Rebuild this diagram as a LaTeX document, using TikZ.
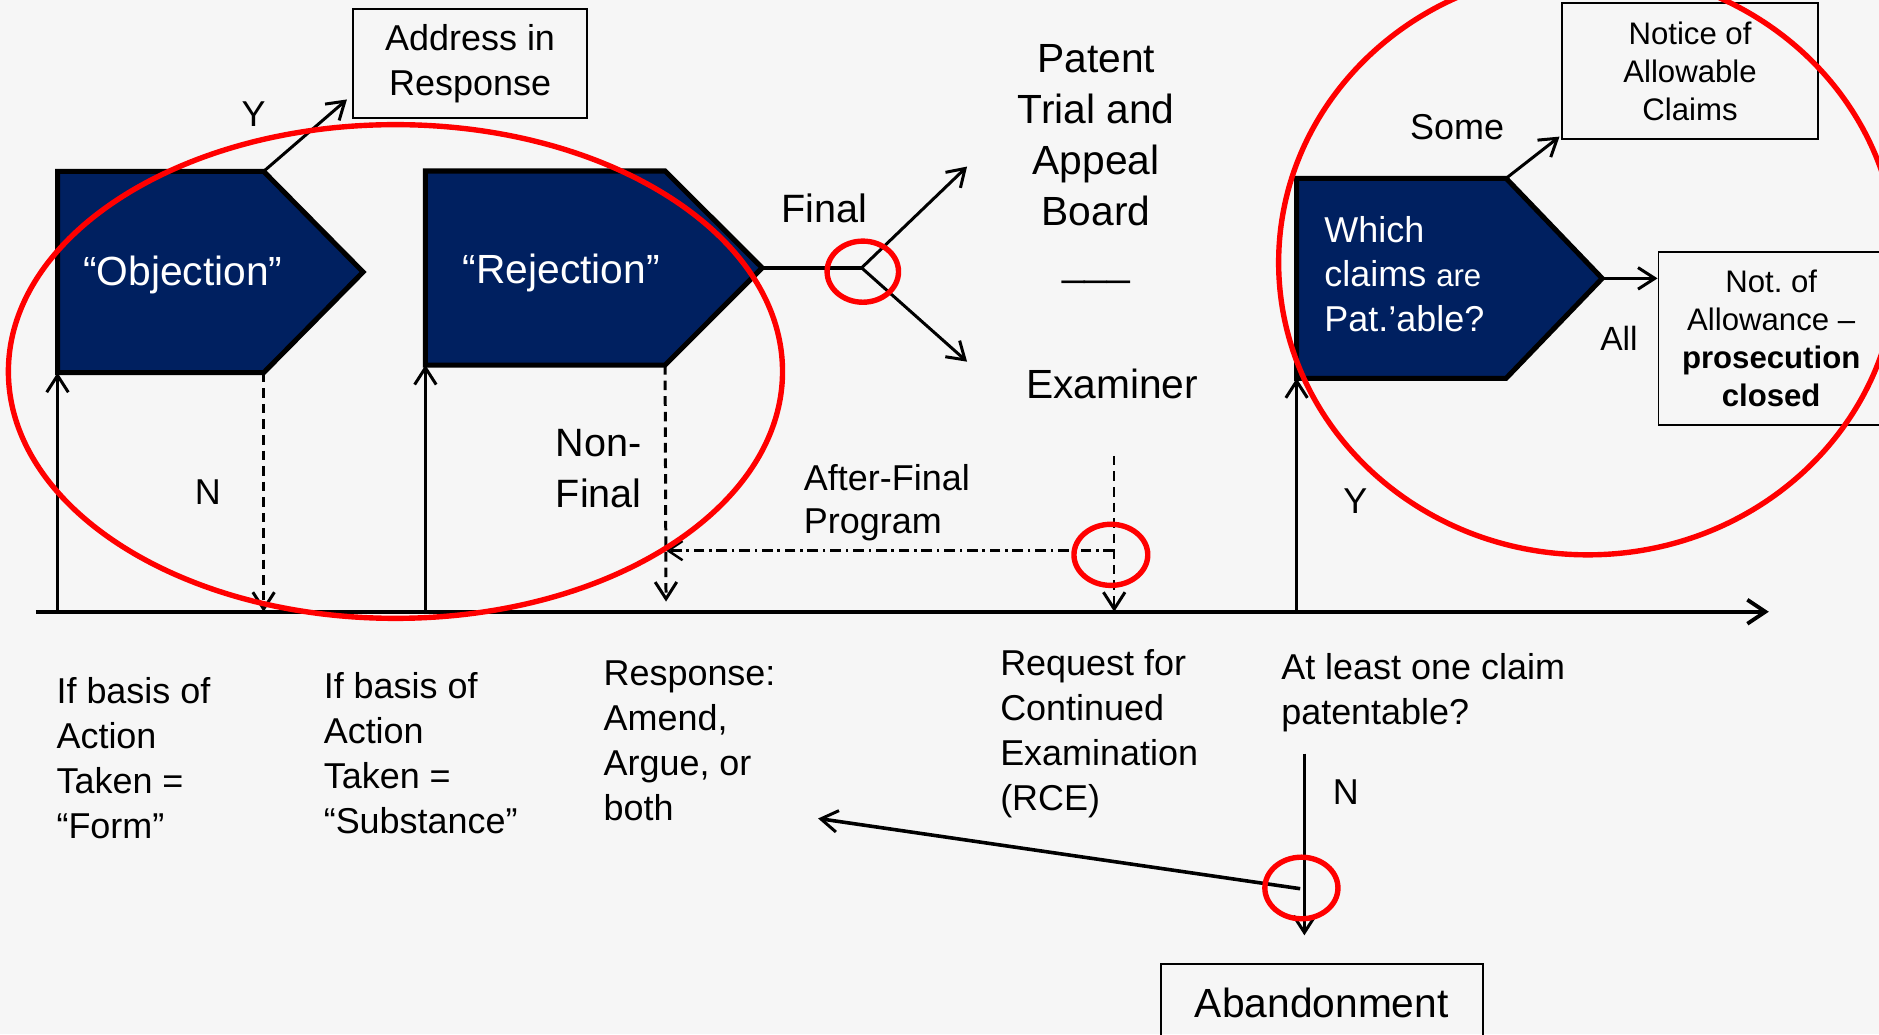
\documentclass[tikz,border=0pt]{standalone}
\usepackage{fontspec}
\setmainfont{Liberation Sans}
\usetikzlibrary{arrows.meta}
\frenchspacing

\definecolor{pagebg}{HTML}{F6F6F6}
\definecolor{navy}{HTML}{002060}
\definecolor{ringred}{HTML}{FF0000}

\newcommand\fsz[2]{\fontsize{#1}{#2}\selectfont}

\tikzset{
  txt/.style={inner sep=0pt, text=black},
  lbl/.style={txt, font=\fsz{30}{37.5}, align=left, anchor=north west},
  box/.style={draw=black, line width=1.6pt, inner sep=0pt, align=center},
  pent/.style={fill=navy, draw=black, line width=4.2pt, line join=miter},
  wtxt/.style={inner sep=0pt, text=white},
  tip/.style={-{Straight Barb[length=14pt,width=18pt,line width=2.5pt]}},
  arr/.style={line width=2.5pt, tip},
  dsh/.style={dash pattern=on 8pt off 5pt},
  dshdot/.style={dash pattern=on 9pt off 4pt on 2pt off 4pt},
  axisline/.style={line width=3.2pt, -{Straight Barb[length=15pt,width=20pt,line width=3.2pt]}},
  ring/.style={draw=ringred, line width=4.5pt},
}

\begin{document}
\begin{tikzpicture}[x=1pt, y=-1pt]
  % page
  \fill[pagebg] (0,0) rectangle (1568,863);
  \useasboundingbox (0,0) rectangle (1568,863);
  \clip (0,0) rectangle (1568,863);

  % ---------- time line ----------
  \coordinate (tl0) at (30,510.5);
  \coordinate (tl1) at (1476,510.5);
  \draw[axisline] (tl0) -- (tl1);

  % ---------- "Objection" ----------
  \coordinate (objTL)  at (48,143);
  \coordinate (objTR)  at (220,143);
  \coordinate (objTip) at (303,227);
  \coordinate (objBR)  at (220,311);
  \coordinate (objBL)  at (48,311);
  \draw[pent] (objTL) -- (objTR) -- (objTip) -- (objBR) -- (objBL) -- cycle;
  \node[wtxt, font=\fsz{34}{40}, anchor=base] (objTxt) at (152.6,238.5) {“Objection”};

  % ---------- "Rejection" ----------
  \coordinate (rejTL)  at (355,142.7);
  \coordinate (rejTR)  at (555,142.7);
  \coordinate (rejTip) at (636,223.5);
  \coordinate (rejBR)  at (555,304.6);
  \coordinate (rejBL)  at (355,304.6);
  \draw[pent] (rejTL) -- (rejTR) -- (rejTip) -- (rejBR) -- (rejBL) -- cycle;
  \node[wtxt, font=\fsz{34}{40}, anchor=base] (rejTxt) at (468.3,236.5) {“Rejection”};

  % ---------- "Which claims are Pat.'able?" ----------
  \coordinate (whTL)  at (1082,148.8);
  \coordinate (whTR)  at (1256.8,148.8);
  \coordinate (whTip) at (1337,232.3);
  \coordinate (whBR)  at (1256.8,315.7);
  \coordinate (whBL)  at (1082,315.7);
  \draw[pent] (whTL) -- (whTR) -- (whTip) -- (whBR) -- (whBL) -- cycle;
  \node[wtxt, font=\fsz{30}{37}, align=left, anchor=north west] (whTxt) at (1105,180.5)
    {Which\\claims {\fsz{26}{37}are}\\Pat.’able?};

  % ---------- boxes ----------
  \node[box, font=\fsz{30}{37.5}, minimum width=195pt, minimum height=91pt] (addr) at (392.3,53.1)
    {Address in\\Response};
  \node[box, font=\fsz{26}{32}, minimum width=213.4pt, minimum height=113.5pt] (notice) at (1410.3,59.5)
    {Notice of\\Allowable\\Claims};
  \node[box, font=\fsz{26}{31.8}, minimum width=188pt, minimum height=144.7pt] (notallow) at (1478,282.4)
    {Not. of\\Allowance –\\\textbf{prosecution}\\\textbf{closed}};
  \node[box, font=\fsz{34}{40}, minimum width=269pt, minimum height=65pt] (aband) at (1103,837)
    {Abandonment};

  % ---------- connectors: Objection ----------
  \coordinate (addrIn) at (289.5,83);
  \draw[arr] (objTR) -- (addrIn);
  \node[txt, font=\fsz{30}{36}, anchor=base] (yObj) at (211.6,105.3) {Y};
  \draw[arr] (objBL |- tl0) -- (objBL);
  \draw[arr, dsh] (objBR) -- (objBR |- tl0);
  \node[txt, font=\fsz{30}{36}, anchor=base] (nObj) at (173.4,421) {N};

  % ---------- connectors: Rejection ----------
  \draw[arr] (rejBL |- tl0) -- (rejBL);
  \coordinate (nfEnd) at (555.8,502);
  \draw[arr, dsh] (rejBR) -- (nfEnd);
  \node[txt, font=\fsz{33}{42}, align=left, anchor=north west] (nonFinal) at (463.7,358.3)
    {Non-\\Final};

  % Final: fork to the Board and the Examiner
  \coordinate (fork) at (719,223.5);
  \coordinate (ptabIn) at (807,139);
  \coordinate (examIn) at (807,301.8);
  \draw[line width=3pt] (rejTip) -- (fork);
  \draw[arr] (fork) -- (ptabIn);
  \draw[arr] (fork) -- (examIn);
  \node[txt, font=\fsz{33}{40}, anchor=base] (finalLbl) at (688,185.8) {Final};

  \node[txt, font=\fsz{34}{42.7}, align=center, anchor=north] (ptab) at (914.7,36.5)
    {Patent\\Trial and\\Appeal\\Board};
  \node[txt, font=\fsz{34}{40}, anchor=base] (sep) at (914.8,229.8) {\_\_\_};
  \node[txt, font=\fsz{34}{40}, anchor=base] (exam) at (928,332.2) {Examiner};

  % RCE and after-final program
  \coordinate (exTop) at (929.8,380.4);
  \coordinate (afJoin) at (929.8,459.5);
  \draw[arr, dsh, line width=2pt] (exTop) -- (exTop |- tl0);
  \draw[line width=2pt, dshdot, -{Straight Barb[length=12pt,width=16pt,line width=2pt]}]
    (afJoin) -- (nfEnd |- afJoin);
  \node[txt, font=\fsz{30}{36.5}, align=left, anchor=north west] (afp) at (670.7,387)
    {After-Final\\Program};

  % ---------- connectors: Which claims ----------
  \draw[arr] (whBL |- tl0) -- (whBL);
  \node[txt, font=\fsz{30}{36}, anchor=base] (yWh) at (1131,428.7) {Y};
  \coordinate (noticeIn) at (1301.4,114);
  \draw[arr] (whTR) -- (noticeIn);
  \node[txt, font=\fsz{30}{36}, anchor=base] (someLbl) at (1216,116.4) {Some};
  \draw[arr] (whTip) -- (whTip -| notallow.west);
  \node[txt, font=\fsz{28}{34}, anchor=base] (allLbl) at (1351,292.3) {All};

  % ---------- labels under the time line ----------
  \node[lbl] (form) at (47,565.5) {If basis of\\Action\\Taken =\\“Form”};
  \node[lbl] (subst) at (270,561) {If basis of\\Action\\Taken =\\“Substance”};
  \node[lbl] (resp) at (503.5,551.3) {Response:\\Amend,\\Argue, or\\both};
  \node[lbl] (rce) at (834.5,541.7) {Request for\\Continued\\Examination\\(RCE)};
  \node[lbl] (atleast) at (1069,545) {At least one claim\\patentable?};

  % no patentable claim: abandonment, or back to a response
  \coordinate (nTop) at (1088.5,628.8);
  \coordinate (abIn) at (1088.5,780.5);
  \draw[arr] (nTop) -- (abIn);
  \node[txt, font=\fsz{30}{36}, anchor=base] (nBot) at (1123,671.7) {N};
  \coordinate (retStart) at (1085,741.6);
  \coordinate (retEnd) at (682.7,683);
  \draw[arr, line width=3pt] (retStart) -- (retEnd);

  % ---------- red highlight rings ----------
  \draw[ring] (330,310) ellipse [x radius=323pt, y radius=206pt];
  \draw[ring] (1325,219) ellipse [x radius=258pt, y radius=244pt];
  \draw[ring] (720,226.7) ellipse [x radius=29.8pt, y radius=25.5pt];
  \draw[ring] (927,463) ellipse [x radius=30.8pt, y radius=25.5pt];
  \draw[ring] (1086,741) ellipse [x radius=30.5pt, y radius=25.7pt];
\end{tikzpicture}
\end{document}
